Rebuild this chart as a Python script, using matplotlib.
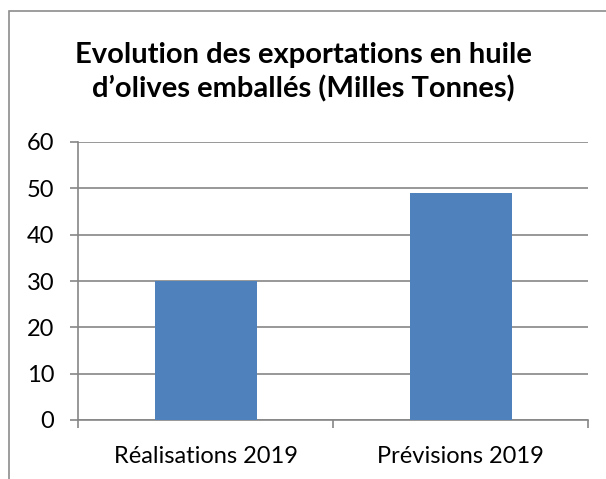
import matplotlib.pyplot as plt
from matplotlib.patches import Rectangle
from matplotlib.ticker import FixedLocator

categories = ["Réalisations 2019", "Prévisions 2019"]
values = [30, 49]
yticks = [0, 10, 20, 30, 40, 50, 60]

plt.rcParams['font.family'] = ['Lato', 'DejaVu Sans']

fig = plt.figure(figsize=(6.06, 4.79), dpi=100)
ax = fig.add_axes([78 / 606, 59 / 479, 510 / 606, 278 / 479])

# chart border, Excel style
fig.patches.append(Rectangle((9 / 606, -0.1), 1.2, 1.1 - 11 / 479,
                             transform=fig.transFigure, fill=False,
                             edgecolor='#8c8c8c', linewidth=1.2))

pos = [0.5, 1.5]
ax.bar(pos, values, width=0.4, color='#4f81bd', zorder=3)

ax.set_xlim(0, 2)
ax.set_ylim(0, 60)
ax.set_yticks(yticks)
ax.yaxis.grid(True, color='#868686', linewidth=1.2, zorder=0)
ax.set_xticks(pos)
ax.set_xticklabels(categories)
ax.xaxis.set_minor_locator(FixedLocator([0, 1, 2]))

for s in ['top', 'right']:
    ax.spines[s].set_visible(False)
for s in ['left', 'bottom']:
    ax.spines[s].set_color('#868686')
    ax.spines[s].set_linewidth(1.2)

ax.tick_params(axis='y', length=6, width=1.2, color='#868686', labelsize=17, pad=11)
ax.tick_params(axis='x', which='major', length=0, labelsize=17, pad=19)
ax.tick_params(axis='x', which='minor', length=6, width=1.2, color='#868686')

fig.text(0.5, 0.849, "Evolution des exportations en huile\nd\u2019olives emballés (Milles Tonnes)",
         ha='center', va='center', fontsize=21, fontweight='bold', linespacing=1.35)

fig.savefig('out.png', dpi=100)
